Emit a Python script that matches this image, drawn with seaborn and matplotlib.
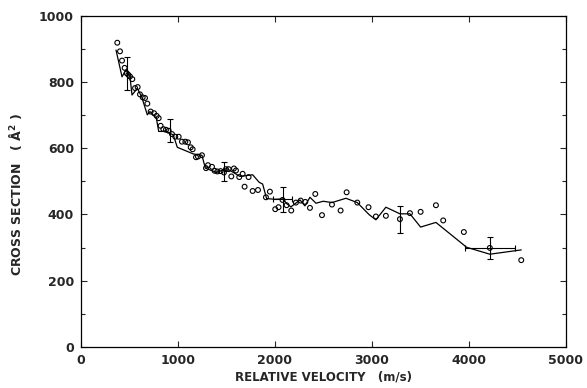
import matplotlib
matplotlib.use("Agg")
import matplotlib.pyplot as plt
from matplotlib.ticker import MultipleLocator
import seaborn as sns
import pandas as pd

# measured cross sections (open circles)
pt_vel = [374, 402, 423, 450, 471, 488, 505, 529, 557, 584, 608, 636, 660, 684,
          718, 753, 780, 801, 821, 849, 876, 904, 938, 972, 1007, 1041, 1076,
          1103, 1131, 1151, 1186, 1206, 1247, 1289, 1309, 1351, 1378, 1406,
          1440, 1474, 1495, 1522, 1550, 1577, 1598, 1632, 1667, 1687, 1728,
          1770, 1825, 1907, 1948, 2003, 2037, 2078, 2120, 2168, 2216, 2265,
          2313, 2361, 2416, 2485, 2588, 2677, 2739, 2849, 2965, 3041, 3144,
          3289, 3392, 3502, 3660, 3735, 3948, 4216, 4540]
pt_xs = [919, 893, 865, 843, 827, 822, 817, 809, 782, 785, 763, 754, 752, 735,
         711, 706, 698, 691, 668, 658, 656, 653, 643, 635, 635, 620, 620,
         618, 603, 597, 573, 575, 579, 540, 549, 544, 532, 530,
         531, 527, 537, 537, 515, 539, 533, 513, 523, 484, 513,
         471, 474, 452, 469, 416, 422, 444, 428, 412, 436, 442,
         438, 420, 462, 398, 430, 412, 467, 436, 422, 394, 396,
         386, 404, 408, 428, 382, 347, 299, 262]

# calculated curve (solid line)
ln_vel = [361, 423, 464, 505, 526, 581, 625, 684, 711, 777, 801, 883, 952, 993,
          1158, 1247, 1282, 1399, 1502, 1639, 1770, 1838, 1873, 1914, 2000,
          2082, 2124, 2165, 2258, 2309, 2361, 2423, 2498, 2588, 2732, 2849,
          2973, 3041, 3144, 3289, 3392, 3502, 3660, 3976, 4216, 4540]
ln_xs = [897, 816, 837, 816, 761, 781, 756, 701, 711, 691, 651, 651, 640, 603,
         583, 579, 540, 527, 539, 515, 520, 497, 492, 448, 446,
         447, 432, 423, 444, 426, 452, 434, 440, 436, 449, 436,
         399, 384, 422, 402, 402, 362, 376, 301, 280, 293]

# representative error bars
eb_vel = [474, 921, 1478, 2078, 3289, 4216]
eb_xs = [826, 653, 529, 446, 386, 299]
eb_yerr = [49, 35, 29, 37, 41, 34]
eb_xerr = [0, 0, 0, 100, 0, 255]

sns.set_style("ticks")
plt.rcParams["font.family"] = ["DejaVu Sans"]
plt.rcParams["font.weight"] = "bold"

fig = plt.figure(figsize=(5.87, 3.88), dpi=100)
ax = fig.add_axes([0.138, 0.106, 0.826, 0.853])

pts = pd.DataFrame({"vel": pt_vel, "xs": pt_xs})
curve = pd.DataFrame({"vel": ln_vel, "xs": ln_xs})

sns.lineplot(data=curve, x="vel", y="xs", sort=False, estimator=None,
             color="black", linewidth=0.9, ax=ax)
sns.scatterplot(data=pts, x="vel", y="xs", marker="o", s=12,
                facecolors="none", edgecolor="black", linewidth=0.8, ax=ax)
ax.errorbar(eb_vel, eb_xs, yerr=eb_yerr, xerr=eb_xerr, fmt="none",
            ecolor="black", elinewidth=0.8, capsize=2.5, capthick=0.8)

ax.set_xlim(0, 5000)
ax.set_ylim(0, 1000)
ax.xaxis.set_major_locator(MultipleLocator(1000))
ax.yaxis.set_major_locator(MultipleLocator(200))
ax.yaxis.set_minor_locator(MultipleLocator(100))
ax.tick_params(which="both", direction="in", top=True, right=True,
               labelsize=9, width=0.8)
ax.tick_params(which="major", length=4, pad=5)
ax.tick_params(which="minor", length=3)
for lab in ax.get_xticklabels() + ax.get_yticklabels():
    lab.set_fontweight("bold")
for sp in ax.spines.values():
    sp.set_visible(True)
    sp.set_linewidth(0.9)
    sp.set_color("black")

ax.set_xlabel("RELATIVE VELOCITY   (m/s)", fontsize=8.5, fontweight="bold",
              labelpad=3)
ax.set_ylabel("CROSS SECTION   ( Å$^{\\mathbf{2}}$ )", fontsize=9,
              fontweight="bold", labelpad=9)
ax.yaxis.set_label_coords(-0.118, 0.46)

fig.savefig("out.png", dpi=100)
